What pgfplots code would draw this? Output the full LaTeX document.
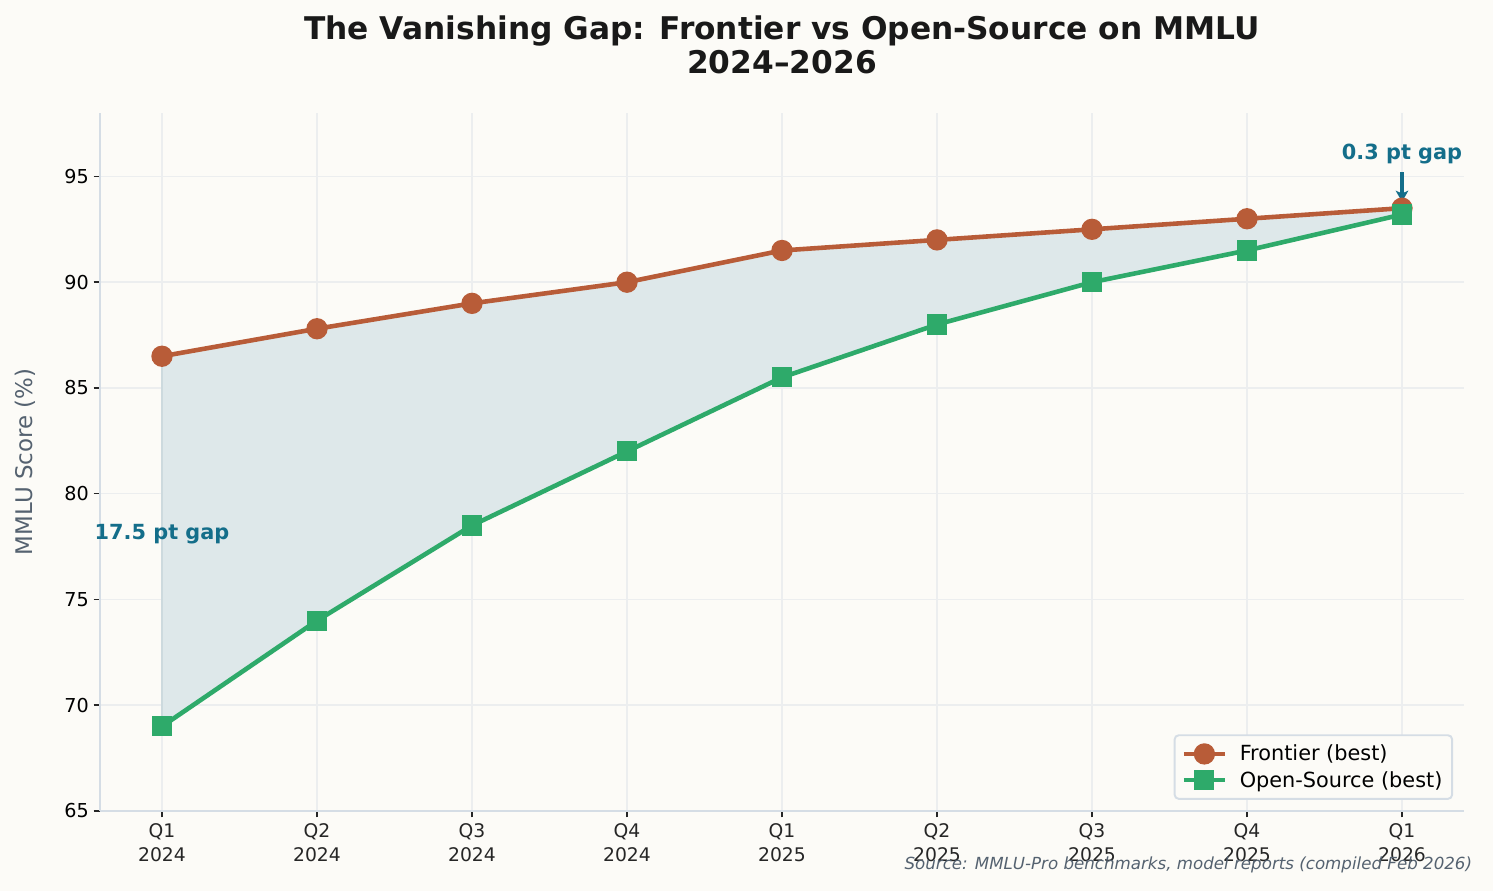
\documentclass[border=0pt]{standalone}
\usepackage{pgfplots}
\pgfplotsset{compat=1.18}
\usetikzlibrary{arrows.meta}
\usepackage{fontspec}
\setmainfont{DejaVu Sans}
\definecolor{bg}{RGB}{252,251,247}
\definecolor{front}{RGB}{184,92,56}
\definecolor{opens}{RGB}{46,170,106}
\definecolor{annot}{RGB}{20,110,138}
\definecolor{gapfill}{RGB}{222,232,234}
\definecolor{gapedge}{RGB}{205,218,222}
\definecolor{spine}{RGB}{213,221,229}
\definecolor{gridc}{RGB}{236,238,239}
\definecolor{labgray}{RGB}{85,98,112}
\begin{document}
\begin{tikzpicture}
\fill[bg] (-72pt,-57.6pt) rectangle (1002.96pt,583.92pt);
\useasboundingbox (-72pt,-57.6pt) rectangle (1002.96pt,583.92pt);
\begin{axis}[
  at={(0pt,0pt)}, anchor=south west,
  scale only axis, width=982.08pt, height=502.56pt,
  xmin=-0.4, xmax=8.4, ymin=65, ymax=98,
  xtick={0,...,8},
  xticklabels={Q1\\2024,Q2\\2024,Q3\\2024,Q4\\2024,Q1\\2025,Q2\\2025,Q3\\2025,Q4\\2025,Q1\\2026},
  xticklabel style={align=center, font=\fontsize{13.5}{17.3}\selectfont, text=black!85, yshift=-1pt},
  ytick={65,70,...,95},
  yticklabel style={font=\fontsize{13.8}{16}\selectfont},
  /pgf/number format/assume math mode=true,
  axis lines*=left,
  axis line style={spine, line width=1.5pt},
  tick style={black!85, line width=1.1pt},
  tick align=outside, major tick length=4.6pt,
  grid=major, major grid style={gridc, line width=1.1pt},
  legend style={at={(0.992,0.016)}, anchor=south east, draw=spine, line width=1.4pt, rounded corners=3pt, fill=bg, font=\fontsize{15}{17}\selectfont, row sep=2pt, column sep=7pt, inner xsep=5pt, inner ysep=5pt},
  legend cell align=left,
  legend image code/.code={\draw[mark repeat=2,mark phase=2] plot coordinates {(0cm,0cm) (0.52cm,0cm) (1.04cm,0cm)};},
  clip=false,
]
\addplot[fill=gapfill, draw=none, forget plot] coordinates {(0,86.5) (1,87.8) (2,89) (3,90) (4,91.5) (5,92) (6,92.5) (7,93) (8,93.5) (8,93.2) (7,91.5) (6,90) (5,88) (4,85.5) (3,82) (2,78.5) (1,74) (0,69)} -- cycle;
\addplot[draw=gapedge, line width=1.2pt, forget plot] coordinates {(0,69) (0,86.5)};
\addplot[front, line width=3.3pt, mark=*, mark size=6pt, mark options={solid}] coordinates {(0,86.5) (1,87.8) (2,89) (3,90) (4,91.5) (5,92) (6,92.5) (7,93) (8,93.5)};
\addlegendentry{Frontier (best)}
\addplot[opens, line width=3.3pt, mark=square*, mark size=5.6pt, mark options={solid}] coordinates {(0,69) (1,74) (2,78.5) (3,82) (4,85.5) (5,88) (6,90) (7,91.5) (8,93.2)};
\addlegendentry{Open-Source (best)}
\node[font=\bfseries\fontsize{15}{17}\selectfont, text=annot] at (axis cs:0,78.1) {17.5 pt gap};
\node[font=\bfseries\fontsize{15}{17}\selectfont, text=annot] at (axis cs:8,96.05) {0.3 pt gap};
\draw[annot, line width=2.2pt, -{Stealth[length=8pt,width=9pt,inset=2pt]}] (axis cs:8,95.2) -- (axis cs:8,93.8);
\end{axis}
\node[rotate=90, font=\fontsize{16.5}{19}\selectfont, text=labgray] at (-54pt,251.28pt) {MMLU Score (\%)};
\node[font=\bfseries\fontsize{22.5}{24.5}\selectfont, text=black!90, align=center] at (491.04pt,551.5pt) {The Vanishing Gap: Frontier vs Open-Source on MMLU\\2024--2026};
\node[font=\itshape\fontsize{12}{14}\selectfont, text=labgray, anchor=east] at (991.4pt,-38.9pt) {Source: MMLU-Pro benchmarks, model reports (compiled Feb 2026)};
\end{tikzpicture}
\end{document}
